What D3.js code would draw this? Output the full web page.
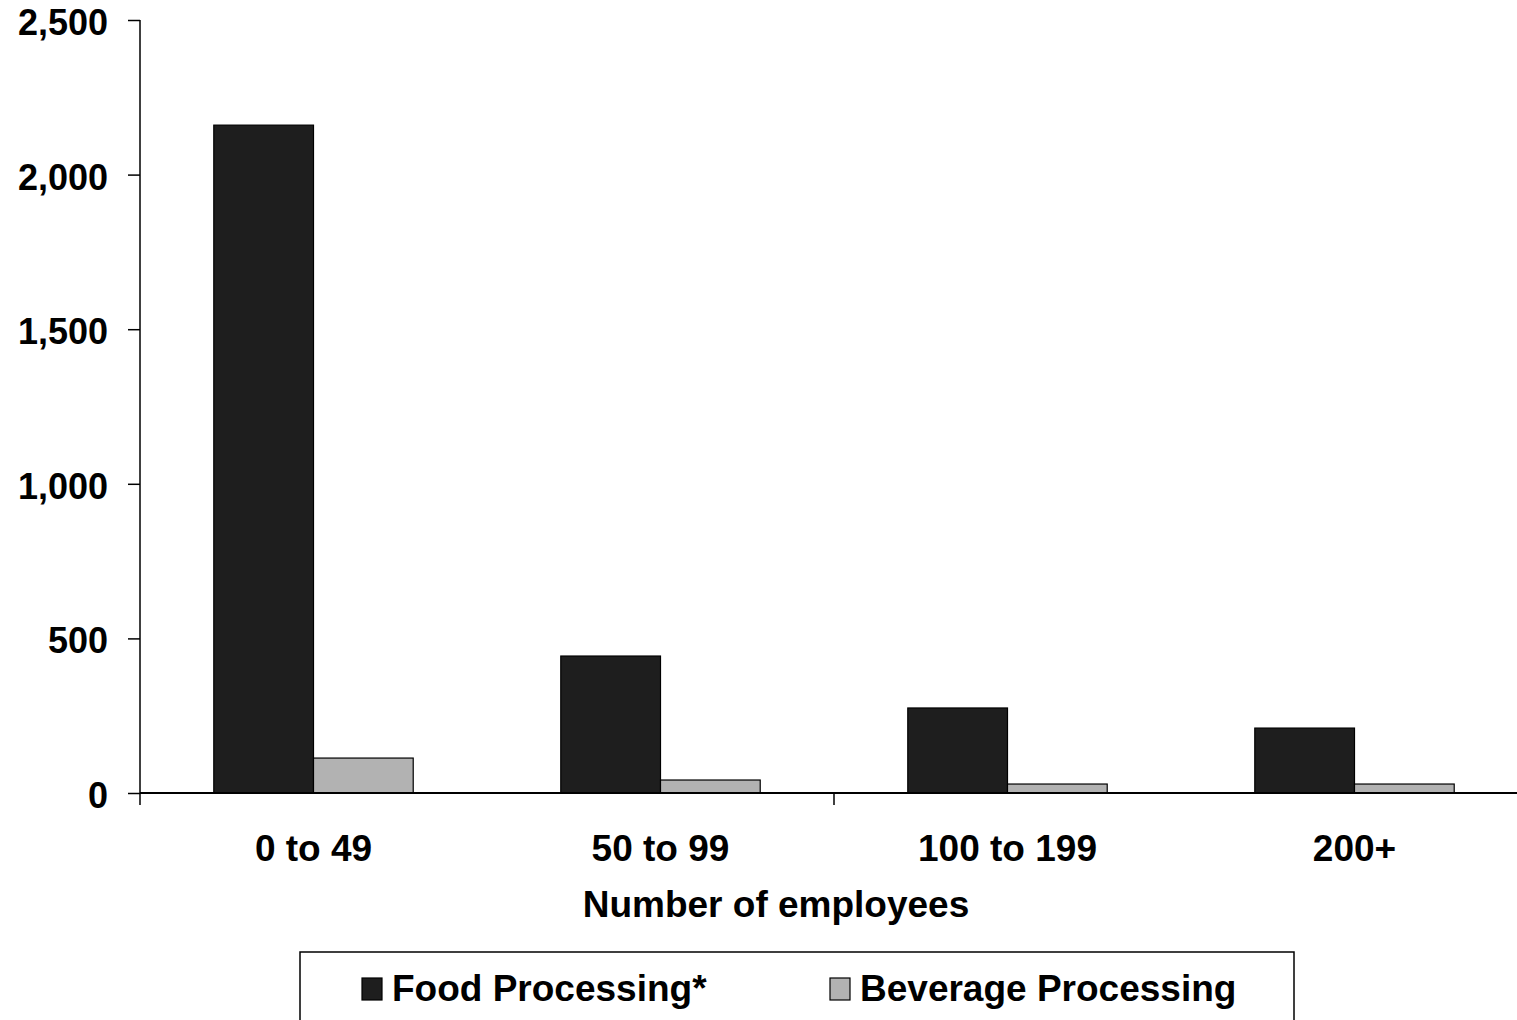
<!DOCTYPE html>
<html>
<head>
<meta charset="utf-8">
<script src="https://cdn.jsdelivr.net/npm/d3@7"></script>
<style>
  html, body { margin: 0; padding: 0; background: #fff; overflow: hidden; }
  svg { display: block; font-family: "Liberation Sans", Arial, sans-serif; font-weight: bold; }
</style>
</head>
<body>
<svg id="chart" width="1517" height="1020"></svg>
<script>
const categories = ["0 to 49", "50 to 99", "100 to 199", "200+"];
const seriesNames = ["Food Processing*", "Beverage Processing"];
const foodValues = [2160, 443, 275, 210];
const beverageValues = [113, 42, 29, 29];
const yTicks = [0, 500, 1000, 1500, 2000, 2500];
const xTitle = "Number of employees";

(function () {
const colors = ["#1e1e1e", "#b2b2b2"];
const svg = d3.select("#chart");
const fs = "37px";

const pLeft = 140, pRight = 1528, pTop = 20, pBottom = 793;
const x = d3.scaleBand().domain(categories).range([pLeft, pRight]).paddingInner(0).paddingOuter(0);
const gapRatio = 1.48;
const barW = x.bandwidth() / (2 + gapRatio);
const xs = d3.scaleBand().domain(seriesNames).range([0, barW * 2]);
const y = d3.scaleLinear().domain([0, 2500]).range([pBottom, pTop]);

const data = categories.map((c, i) => ({ cat: c, vals: [foodValues[i], beverageValues[i]] }));

// bars
const g = svg.append("g");
data.forEach(d => {
  const x0 = x(d.cat) + (x.bandwidth() - barW * 2) / 2;
  d.vals.forEach((v, j) => {
    g.append("rect")
      .attr("x", x0 + xs(seriesNames[j]))
      .attr("y", y(v))
      .attr("width", xs.bandwidth())
      .attr("height", y(0) - y(v))
      .attr("fill", colors[j])
      .attr("stroke", "#000")
      .attr("stroke-width", 1.2);
  });
});

// y axis
const yAxis = d3.axisLeft(y).tickValues(yTicks).tickFormat(d3.format(",")).tickSize(12).tickPadding(20);
const yg = svg.append("g").attr("transform", `translate(${pLeft},0)`).call(yAxis);
yg.attr("font-family", null).attr("font-size", null);
yg.select(".domain").attr("d", `M0,${pTop}V${pBottom}`).attr("stroke", "#000").attr("stroke-width", 1.5);
yg.selectAll(".tick line").attr("stroke", "#000").attr("stroke-width", 1.5);
yg.selectAll(".tick text").attr("fill", "#000").style("font-size", "36px").style("font-weight", "bold")
  .attr("dy", "0.4em");

// x axis line
svg.append("line").attr("x1", pLeft).attr("x2", pRight).attr("y1", pBottom).attr("y2", pBottom)
  .attr("stroke", "#000").attr("stroke-width", 2);
// x tick marks (every second category boundary)
const boundaries = categories.map(c => x(c)).concat([pRight]).filter((b, i) => i % 2 === 0);
svg.selectAll(".xtick").data(boundaries).enter().append("line")
  .attr("x1", d => d).attr("x2", d => d).attr("y1", pBottom).attr("y2", pBottom + 12)
  .attr("stroke", "#000").attr("stroke-width", 1.5);

// x labels
svg.selectAll(".xlab").data(categories).enter().append("text")
  .attr("x", d => x(d) + x.bandwidth() / 2)
  .attr("y", 861)
  .attr("text-anchor", "middle")
  .style("font-size", fs)
  .text(d => d);

// x title
svg.append("text").attr("x", 776).attr("y", 917).attr("text-anchor", "middle")
  .style("font-size", fs).text(xTitle);

// legend
svg.append("rect").attr("x", 300).attr("y", 952).attr("width", 994).attr("height", 100)
  .attr("fill", "#fff").attr("stroke", "#000").attr("stroke-width", 1.5);
const legX = [362, 830];
seriesNames.forEach((s, j) => {
  svg.append("rect").attr("x", legX[j]).attr("y", 978).attr("width", 20).attr("height", 22)
    .attr("fill", colors[j]).attr("stroke", "#000").attr("stroke-width", 1.2);
  svg.append("text").attr("x", legX[j] + 30).attr("y", 1001).style("font-size", fs).text(s);
});
})();
</script>
</body>
</html>
